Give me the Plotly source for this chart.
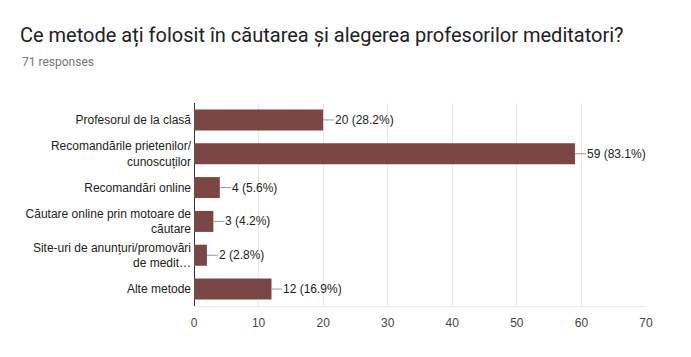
import plotly.graph_objects as go

categories = [
    "Profesorul de la clasă",
    "Recomandările prietenilor/<br>cunoscuților",
    "Recomandări online",
    "Căutare online prin motoare de<br>căutare",
    "Site-uri de anunțuri/promovări<br>de medit…",
    "Alte metode",
]
values = [20, 59, 4, 3, 2, 12]
percents = ["28.2%", "83.1%", "5.6%", "4.2%", "2.8%", "16.9%"]
x_ticks = [0, 10, 20, 30, 40, 50, 60, 70]

title_text = "Ce metode ați folosit în căutarea și alegerea profesorilor meditatori?"
subtitle_text = "71 responses"

W, H = 691, 357
ml, mr, mt, mb = 194, 45, 103, 51
pw, ph = W - ml - mr, H - mt - mb

fig = go.Figure(go.Bar(
    x=values, y=categories, orientation="h",
    marker=dict(color="#7a4646", line=dict(width=0)),
    hoverinfo="skip",
))

for v, c, p in zip(values, categories, percents):
    fig.add_annotation(
        x=v, y=c, xref="x", yref="y",
        text=f"{v} ({p})", showarrow=True, arrowhead=0, arrowwidth=1,
        arrowcolor="#999999", ax=11, ay=0, xanchor="left",
        font=dict(family="Liberation Sans, Arial", size=12, color="#222222"),
        standoff=0, borderpad=0,
    )

fig.add_annotation(
    x=(20 - ml) / pw, y=(H - mb - 62) / ph, xref="paper", yref="paper",
    text=subtitle_text, showarrow=False, xanchor="left", yanchor="middle",
    font=dict(family="Roboto", size=12, color="#70757a"),
)

fig.update_layout(
    width=W, height=H,
    margin=dict(l=ml, r=mr, t=mt, b=mb, pad=0),
    paper_bgcolor="white", plot_bgcolor="white",
    bargap=0.38,
    showlegend=False,
    title=dict(
        text=title_text, xref="container", yref="container",
        x=20 / W, y=1 - 35 / H, xanchor="left", yanchor="middle",
        font=dict(family="Roboto", size=20, color="#202124"),
    ),
    xaxis=dict(
        range=[0, 70], tickvals=x_ticks, showgrid=True, gridcolor="#e8e8e8",
        zeroline=True, zerolinecolor="#333333", zerolinewidth=1,
        showline=True, linecolor="#ebebeb", linewidth=1,
        ticks="", tickfont=dict(family="Liberation Sans, Arial", size=12, color="#444444"),
        ticklabelstandoff=6,
    ),
    yaxis=dict(
        autorange="reversed", showgrid=False, ticks="",
        tickfont=dict(family="Liberation Sans, Arial", size=12, color="#222222"),
        ticklabelstandoff=2,
    ),
)

fig.write_html(
    "out.html",
    config={"displayModeBar": False},
    post_script="document.body.style.margin='0';document.body.style.overflow='hidden';",
)
